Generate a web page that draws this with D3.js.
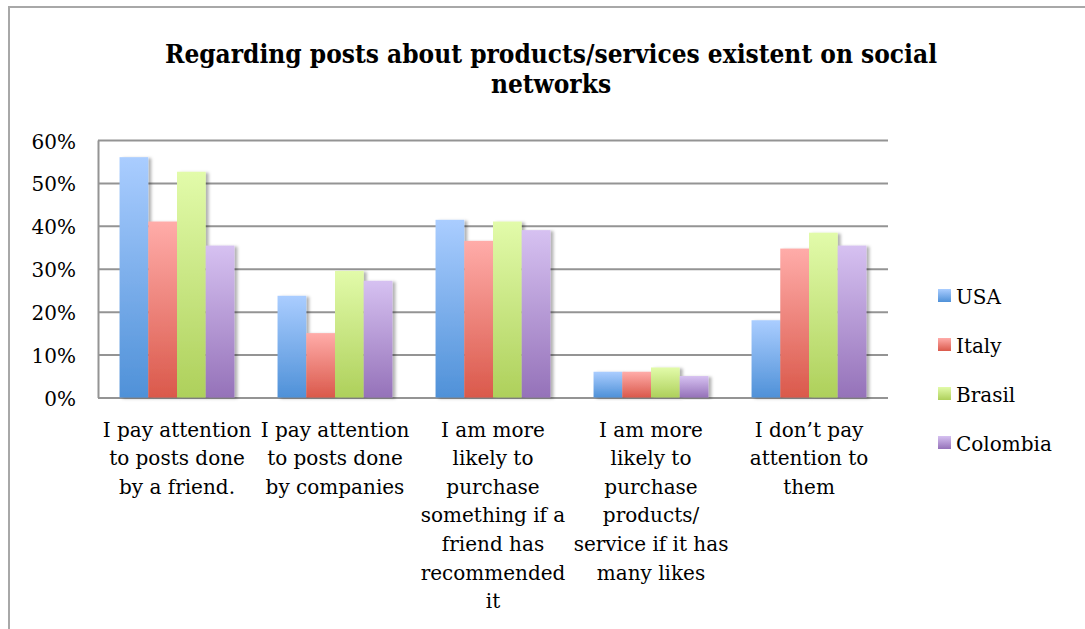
<!DOCTYPE html>
<html>
<head>
<meta charset="utf-8">
<script src="https://cdn.jsdelivr.net/npm/d3@7"></script>
<style>
  html, body { margin: 0; padding: 0; background: #fff; }
  svg { display: block; }
</style>
</head>
<body>
<div id="chart"></div>
<script>
// Survey answers (share of respondents) by country
const categories = [
  "I pay attention\nto posts done\nby a friend.",
  "I pay attention\nto posts done\nby companies",
  "I am more\nlikely to\npurchase\nsomething if a\nfriend has\nrecommended\nit",
  "I am more\nlikely to\npurchase\nproducts/\nservice if it has\nmany likes",
  "I don\u2019t pay\nattention to\nthem"
];
const series = ["USA", "Italy", "Brasil", "Colombia"];
const usa      = [0.560, 0.237, 0.414, 0.060, 0.180];
const italy    = [0.410, 0.150, 0.365, 0.060, 0.347];
const brasil   = [0.526, 0.295, 0.410, 0.070, 0.384];
const colombia = [0.354, 0.272, 0.390, 0.050, 0.354];
const yTicks = [0, 0.1, 0.2, 0.3, 0.4, 0.5, 0.6];
const title = ["Regarding posts about products/services existent on social", "networks"];

const values = { USA: usa, Italy: italy, Brasil: brasil, Colombia: colombia };
const gradStops = {
  USA:      ["#aacdff", "#4f91d8"],
  Italy:    ["#ffaca9", "#da594b"],
  Brasil:   ["#e2fbaa", "#aed05b"],
  Colombia: ["#d6c1f1", "#9572b9"]
};

const W = 1085, H = 629;
const plot = { left: 98, right: 888, top: 140, bottom: 397.5 };
const labelFont = "'DejaVu Serif', serif";

const svg = d3.select("#chart").append("svg")
  .attr("width", W).attr("height", H);

const defs = svg.append("defs");
series.forEach((s, i) => {
  const g = defs.append("linearGradient")
    .attr("id", "grad" + i)
    .attr("x1", 0).attr("y1", 0).attr("x2", 0).attr("y2", 1);
  g.append("stop").attr("offset", "0%").attr("stop-color", gradStops[s][0]);
  g.append("stop").attr("offset", "100%").attr("stop-color", gradStops[s][1]);
});
const shadow = defs.append("filter").attr("id", "shadow")
  .attr("x", "-20%").attr("y", "-10%").attr("width", "150%").attr("height", "120%");
shadow.append("feDropShadow")
  .attr("dx", 3).attr("dy", 1).attr("stdDeviation", 1.8)
  .attr("flood-color", "#000").attr("flood-opacity", 0.3);

// outer chart frame
svg.append("rect")
  .attr("x", 9).attr("y", 7).attr("width", W + 20).attr("height", H + 20)
  .attr("fill", "#fff").attr("stroke", "#a8a8a8").attr("stroke-width", 2);

// title
svg.append("text")
  .attr("x", 551).attr("y", 63)
  .attr("text-anchor", "middle")
  .attr("font-family", "'DejaVu Serif Condensed', 'DejaVu Serif', serif")
  .attr("font-stretch", "condensed")
  .attr("font-weight", "bold").attr("font-size", 26)
  .attr("fill", "#000")
  .selectAll("tspan").data(title).join("tspan")
  .attr("x", 551).attr("dy", (d, i) => i === 0 ? 0 : 30)
  .text(d => d);

// scales
const y = d3.scaleLinear().domain([0, 0.6]).range([plot.bottom, plot.top]);
const x0 = d3.scaleBand().domain(categories).range([plot.left, plot.right]).padding(0);
const x1 = d3.scaleBand().domain(series).range([0, x0.bandwidth()])
  .paddingInner(0).paddingOuter(0.75);

// gridlines
const grid = svg.append("g")
  .attr("transform", `translate(${plot.left},0)`)
  .call(d3.axisLeft(y).tickValues(yTicks).tickSize(-(plot.right - plot.left)).tickFormat(""));
grid.select(".domain").remove();
grid.selectAll(".tick line").attr("stroke", "#949494").attr("stroke-width", 2);

// y axis
const yAxis = svg.append("g")
  .attr("transform", `translate(${plot.left},0)`)
  .call(d3.axisLeft(y).tickValues(yTicks).tickSize(0).tickPadding(22).tickFormat(d3.format(".0%")));
yAxis.select(".domain").attr("stroke", "#949494").attr("stroke-width", 2);
yAxis.selectAll(".tick text")
  .attr("font-family", labelFont).attr("font-size", 20).attr("fill", "#000")
  .attr("dy", "0.4em");

// bars
const groups = svg.append("g").selectAll("g").data(categories).join("g")
  .attr("transform", d => `translate(${x0(d)},0)`);
groups.selectAll("rect")
  .data((c, ci) => series.map((s, si) => ({ s, si, v: values[s][ci] })))
  .join("rect")
  .attr("x", d => x1(d.s))
  .attr("width", x1.bandwidth())
  .attr("y", d => y(d.v))
  .attr("height", d => y(0) - y(d.v))
  .attr("fill", d => `url(#grad${d.si})`)
  .attr("filter", "url(#shadow)");

// category labels
const xAxis = svg.append("g")
  .attr("transform", `translate(0,${plot.bottom})`)
  .call(d3.axisBottom(x0).tickSize(0).tickFormat(""));
xAxis.select(".domain").remove();
xAxis.selectAll(".tick").each(function (d) {
  const t = d3.select(this).append("text")
    .attr("text-anchor", "middle")
    .attr("font-family", labelFont).attr("font-size", 20).attr("fill", "#000")
    .attr("y", 39);
  t.selectAll("tspan").data(d.split("\n")).join("tspan")
    .attr("x", 0).attr("dy", (l, i) => i === 0 ? 0 : 28.6)
    .text(l => l);
});

// legend
const legend = svg.append("g").selectAll("g").data(series).join("g")
  .attr("transform", (d, i) => `translate(938,${289 + i * 49})`);
legend.append("rect")
  .attr("width", 13).attr("height", 13)
  .attr("fill", (d, i) => `url(#grad${i})`);
legend.append("text")
  .attr("x", 18).attr("y", 15)
  .attr("font-family", labelFont).attr("font-size", 20).attr("fill", "#000")
  .text(d => d);
</script>
</body>
</html>
